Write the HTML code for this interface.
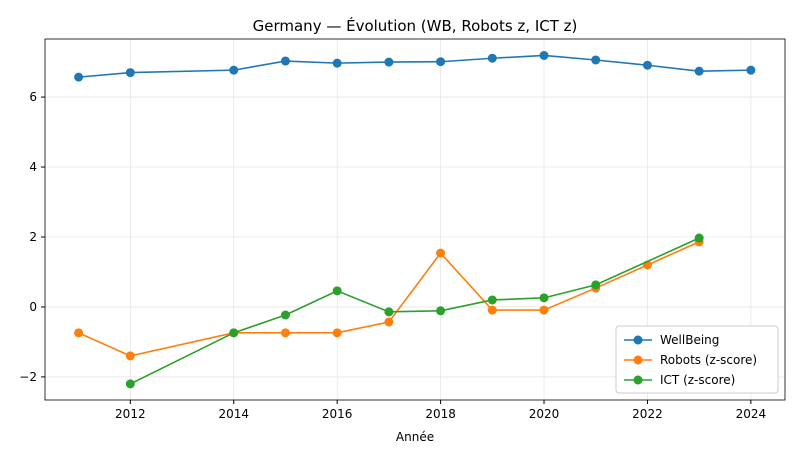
<!DOCTYPE html>
<html><head><meta charset="utf-8"><style>
body{margin:0;background:#fff;font-family:"Liberation Sans","DejaVu Sans",sans-serif}
svg text{font-family:"DejaVu Sans","Liberation Sans",sans-serif}
</style></head><body>
<svg id="c" width="800" height="458" viewBox="0 0 800 458"></svg>
<script>
const years=[2011,2012,2014,2015,2016,2017,2018,2019,2020,2021,2022,2023,2024];
const wellbeing=[6.57,6.70,6.77,7.03,6.97,7.0,7.01,7.11,7.19,7.06,6.91,6.74,6.77];
const robotYears=[2011,2012,2014,2015,2016,2017,2018,2019,2020,2021,2022,2023];
const robots=[-0.74,-1.4,-0.74,-0.74,-0.74,-0.43,1.54,-0.09,-0.09,0.54,1.2,1.86];
const ictYears=[2012,2014,2015,2016,2017,2018,2019,2020,2021,2023];
const ict=[-2.2,-0.74,-0.23,0.46,-0.14,-0.11,0.2,0.26,0.63,1.97];
const xTicks=[2012,2014,2016,2018,2020,2022,2024];
const yTicks=[-2,0,2,4,6];
const yTickLabels=["\u22122","0","2","4","6"];
const L=45,R=785,T=39,B=400,x0=2010.35,x1=2024.66,y0=-2.66,y1=7.66;
const X=v=>L+(v-x0)/(x1-x0)*(R-L), Y=v=>B-(v-y0)/(y1-y0)*(B-T);
const s=document.getElementById('c'),NS='http://www.w3.org/2000/svg';
function el(t,a,txt){const e=document.createElementNS(NS,t);for(const k in a)e.setAttribute(k,a[k]);if(txt!==undefined)e.textContent=txt;s.appendChild(e);return e;}
xTicks.forEach(v=>{const g=el('line',{x1:X(v),x2:X(v),y1:T,y2:B,stroke:'#e6e6e6','stroke-width':0.8});
const t=el('line',{x1:X(v),x2:X(v),y1:B,y2:B+4,stroke:'#000'});
const l=el('text',{x:X(v),y:B+18,'text-anchor':'middle','font-size':12},v);});
yTicks.forEach((v,i)=>{const g=el('line',{x1:L,x2:R,y1:Y(v),y2:Y(v),stroke:'#e6e6e6','stroke-width':0.8});
const t=el('line',{x1:L-4,x2:L,y1:Y(v),y2:Y(v),stroke:'#000'});
const l=el('text',{x:L-8,y:Y(v)+4,'text-anchor':'end','font-size':12},yTickLabels[i]);});
function series(xs,ys,c,name){const p=el('polyline',{points:xs.map((v,i)=>X(v)+','+Y(ys[i])).join(' '),fill:'none',stroke:c,'stroke-width':1.6});
xs.forEach((v,i)=>{const m=el('circle',{cx:X(v),cy:Y(ys[i]),r:4.5,fill:c});});}
series(years,wellbeing,'#1f77b4','wellbeing');
series(robotYears,robots,'#ff7f0e','robots');
series(ictYears,ict,'#2ca02c','ict');
const fr=el('rect',{x:L,y:T,width:R-L,height:B-T,fill:'none',stroke:'#000','stroke-width':0.8});
const ti=el('text',{x:(L+R)/2,y:31,'text-anchor':'middle','font-size':15},'Germany \u2014 \u00c9volution (WB, Robots z, ICT z)');
const xl=el('text',{x:(L+R)/2,y:441,'text-anchor':'middle','font-size':12},'Ann\u00e9e');
const lg=el('rect',{x:616,y:326,width:162,height:67,fill:'#fff',stroke:'#ccc',rx:3});
[['WellBeing','#1f77b4'],['Robots (z-score)','#ff7f0e'],['ICT (z-score)','#2ca02c']].forEach((d,i)=>{const y=340+i*20;
const a=el('line',{x1:624,x2:652,y1:y,y2:y,stroke:d[1],'stroke-width':1.6});
const b=el('circle',{cx:638,cy:y,r:4.5,fill:d[1]});
const t=el('text',{x:660,y:y+4,'font-size':12},d[0]);});
</script></body></html>
